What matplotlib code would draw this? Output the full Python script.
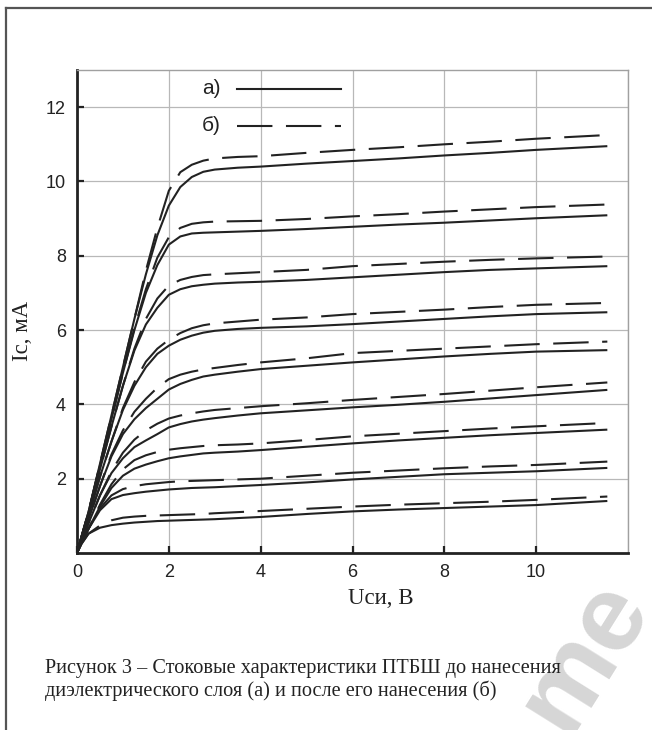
import matplotlib
matplotlib.use("Agg")
import matplotlib.pyplot as plt
from matplotlib.lines import Line2D

# drain voltage, V
U = [0, 0.1, 0.25, 0.5, 0.75, 1.0, 1.25, 1.5, 1.75, 2.0, 2.25, 2.5, 2.75,
     3.0, 3.5, 4.0, 5.0, 6.0, 7.0, 8.0, 9.0, 10.0, 11.55]

# а) before coating (solid)
a1 = [0, 0.45, 1.1, 2.4, 3.7, 5.0, 6.3, 7.5, 8.55, 9.35, 9.85, 10.12, 10.26, 10.32, 10.37, 10.4, 10.48, 10.55, 10.62, 10.7, 10.77, 10.85, 10.95]
a2 = [0, 0.45, 1.1, 2.35, 3.6, 4.85, 6.0, 7.0, 7.75, 8.3, 8.52, 8.6, 8.62, 8.63, 8.65, 8.67, 8.72, 8.78, 8.84, 8.89, 8.95, 9.01, 9.09]
a3 = [0, 0.43, 1.05, 2.25, 3.4, 4.5, 5.45, 6.15, 6.6, 6.95, 7.1, 7.18, 7.22, 7.25, 7.28, 7.3, 7.35, 7.42, 7.49, 7.56, 7.62, 7.66, 7.72]
a4 = [0, 0.42, 1.0, 2.05, 3.0, 3.85, 4.5, 5.0, 5.36, 5.58, 5.74, 5.85, 5.93, 5.98, 6.03, 6.06, 6.1, 6.16, 6.23, 6.3, 6.37, 6.43, 6.48]
a5 = [0, 0.38, 0.9, 1.8, 2.6, 3.2, 3.6, 3.9, 4.15, 4.4, 4.55, 4.66, 4.75, 4.8, 4.88, 4.95, 5.04, 5.13, 5.21, 5.29, 5.36, 5.42, 5.46]
a6 = [0, 0.33, 0.8, 1.55, 2.15, 2.55, 2.85, 3.03, 3.2, 3.38, 3.47, 3.54, 3.59, 3.63, 3.7, 3.76, 3.84, 3.92, 3.99, 4.07, 4.16, 4.25, 4.39]
a7 = [0, 0.28, 0.65, 1.25, 1.75, 2.08, 2.27, 2.38, 2.47, 2.55, 2.6, 2.64, 2.68, 2.7, 2.73, 2.77, 2.86, 2.95, 3.03, 3.1, 3.17, 3.23, 3.32]
a8 = [0, 0.3, 0.65, 1.15, 1.45, 1.56, 1.61, 1.65, 1.68, 1.71, 1.73, 1.75, 1.76, 1.77, 1.8, 1.83, 1.9, 1.98, 2.05, 2.12, 2.16, 2.2, 2.29]
a9 = [0, 0.25, 0.52, 0.68, 0.75, 0.79, 0.82, 0.84, 0.86, 0.87, 0.88, 0.89, 0.9, 0.91, 0.94, 0.97, 1.05, 1.12, 1.17, 1.21, 1.25, 1.29, 1.4]

# б) after coating (dashed)
b1 = [0, 0.45, 1.1, 2.4, 3.7, 5.0, 6.3, 7.6, 8.75, 9.75, 10.25, 10.45, 10.56, 10.62, 10.66, 10.68, 10.77, 10.85, 10.92, 11.0, 11.07, 11.15, 11.25]
b2 = [0, 0.45, 1.1, 2.35, 3.6, 4.85, 6.05, 7.1, 7.95, 8.5, 8.75, 8.86, 8.9, 8.92, 8.93, 8.94, 8.99, 9.06, 9.12, 9.19, 9.25, 9.31, 9.38]
b3 = [0, 0.43, 1.05, 2.25, 3.4, 4.5, 5.5, 6.3, 6.85, 7.2, 7.35, 7.43, 7.48, 7.5, 7.53, 7.56, 7.62, 7.72, 7.78, 7.84, 7.89, 7.93, 7.98]
b4 = [0, 0.42, 1.0, 2.05, 3.0, 3.9, 4.6, 5.15, 5.5, 5.74, 5.92, 6.05, 6.13, 6.18, 6.23, 6.28, 6.34, 6.43, 6.49, 6.55, 6.62, 6.68, 6.73]
b5 = [0, 0.38, 0.9, 1.8, 2.65, 3.3, 3.8, 4.15, 4.45, 4.68, 4.8, 4.88, 4.94, 4.98, 5.06, 5.13, 5.24, 5.38, 5.44, 5.5, 5.56, 5.62, 5.69]
b6 = [0, 0.33, 0.8, 1.55, 2.2, 2.7, 3.05, 3.3, 3.48, 3.62, 3.7, 3.76, 3.81, 3.85, 3.9, 3.95, 4.03, 4.12, 4.2, 4.28, 4.37, 4.46, 4.59]
b7 = [0, 0.28, 0.65, 1.3, 1.85, 2.25, 2.5, 2.63, 2.72, 2.78, 2.82, 2.85, 2.88, 2.9, 2.92, 2.95, 3.04, 3.14, 3.21, 3.28, 3.35, 3.41, 3.5]
b8 = [0, 0.3, 0.65, 1.2, 1.55, 1.72, 1.8, 1.85, 1.88, 1.91, 1.93, 1.94, 1.95, 1.96, 1.98, 2.0, 2.08, 2.16, 2.22, 2.28, 2.33, 2.37, 2.46]
b9 = [0, 0.25, 0.52, 0.74, 0.88, 0.95, 0.98, 1.0, 1.01, 1.02, 1.03, 1.04, 1.05, 1.07, 1.1, 1.13, 1.19, 1.25, 1.3, 1.34, 1.38, 1.43, 1.52]

solid = [a1, a2, a3, a4, a5, a6, a7, a8, a9]
dashed = [b1, b2, b3, b4, b5, b6, b7, b8, b9]

xticks = [0, 2, 4, 6, 8, 10]
yticks = [2, 4, 6, 8, 10, 12]

caption = ["Рисунок 3 – Стоковые характеристики ПТБШ до нанесения",
           "диэлектрического слоя (а) и после его нанесения (б)"]

W, H = 652, 730
fig = plt.figure(figsize=(W / 100, H / 100), dpi=100)
ax = fig.add_axes([77 / W, 1 - 553 / H, (628 - 77) / W, (553 - 70) / H])

ink = "#222222"
dash = (17, 6.5)

for y in solid:
    ax.plot(U, y, color=ink, lw=1.5, solid_capstyle="butt")
for y in dashed:
    ax.plot(U, y, color=ink, lw=1.5, dashes=dash, dash_capstyle="butt")

ax.set_xlim(0, 12)
ax.set_ylim(0, 13)
ax.set_xticks(xticks)
ax.set_yticks(yticks)
ax.set_xticks([12], minor=True)
ax.grid(True, which="both", color="#b8b8b8", lw=0.9)
ax.set_axisbelow(True)

for side in ("top", "right"):
    ax.spines[side].set_color("#a0a0a0")
    ax.spines[side].set_linewidth(1.0)
for side in ("left", "bottom"):
    ax.spines[side].set_color(ink)
    ax.spines[side].set_linewidth(2.0)

ax.tick_params(which="major", direction="in", length=5, width=1.6, color=ink,
               labelsize=13, labelcolor=ink, pad=8)
ax.tick_params(which="minor", length=0)
for lab in ax.get_xticklabels() + ax.get_yticklabels():
    lab.set_family("Liberation Sans")

# legend drawn inside the plot like the original
ax.text(2.72, 12.5, "а)", fontsize=15, family="Liberation Sans", color=ink, va="center")
ax.text(2.72, 11.5, "б)", fontsize=15, family="Liberation Sans", color=ink, va="center")
ax.plot([3.48, 5.76], [12.49, 12.49], color=ink, lw=1.5)
ax.plot([3.48, 5.76], [11.49, 11.49], color=ink, lw=1.5, dashes=dash)

fig.text(381 / W, 1 - 598 / H, "Uси, В", fontsize=16.5, family="Liberation Serif",
         color=ink, ha="center", va="center")
fig.text(22 / W, 1 - 331 / H, "Ic, мА", fontsize=16.5, family="Liberation Serif",
         color=ink, ha="center", va="center", rotation=90)

fig.text(45 / W, 1 - 668 / H, caption[0], fontsize=14.6, family="Liberation Serif",
         color=ink, va="center")
fig.text(45 / W, 1 - 691 / H, caption[1], fontsize=14.6, family="Liberation Serif",
         color=ink, va="center")

# page frame
fig.add_artist(Line2D([6 / W, 6 / W], [0, 1 - 8 / H], transform=fig.transFigure,
                      color="#555555", lw=1.6))
fig.add_artist(Line2D([6 / W, 1], [1 - 8 / H, 1 - 8 / H], transform=fig.transFigure,
                      color="#555555", lw=1.6))

# faint watermark, partly off the page as in the scan
fig.text(585 / W, 1 - 655 / H, "me", fontsize=78, fontweight="bold", color="#d6d6d6",
         family="Liberation Sans", rotation=58, ha="center", va="center", zorder=-1)

fig.savefig("out.png", dpi=100)
